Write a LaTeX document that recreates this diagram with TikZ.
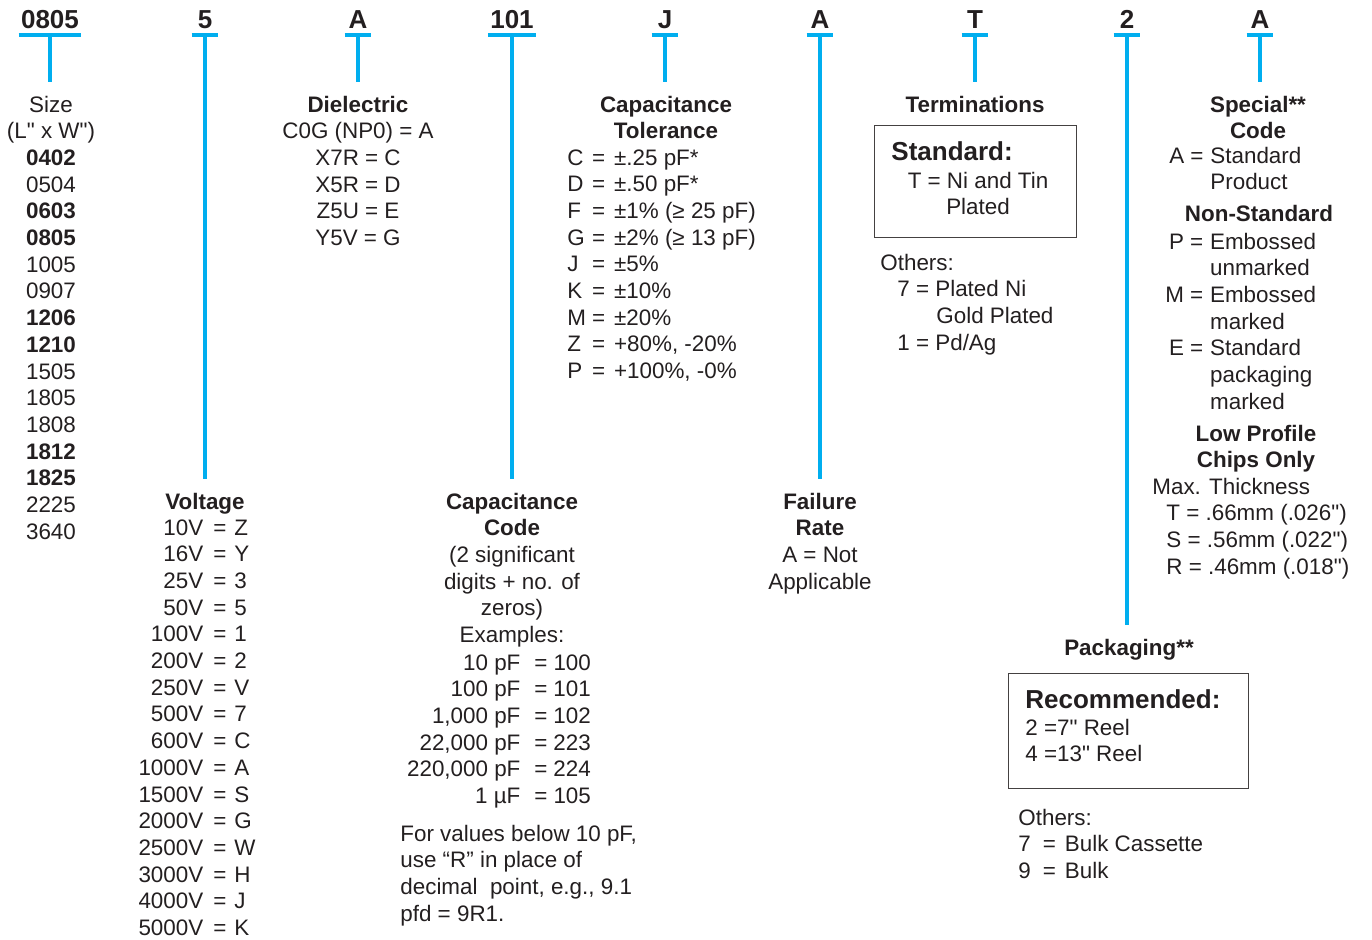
\documentclass[tikz,border=0pt]{standalone}
\usepackage{fontspec}
\setmainfont{Liberation Sans}[Ligatures=TeXOff]
\definecolor{codeblue}{HTML}{00AEEF}
\definecolor{ink}{HTML}{231F20}
\newcommand\codelines[2]{\begin{tabular}[t]{@{}#1@{}}#2\end{tabular}}
\tikzset{
  code/.style = {font=\fontsize{13}{15}\selectfont\bfseries, text=ink, anchor=base, inner xsep=1pt, inner ysep=3.5pt, text depth=0pt, minimum width=13pt},
  bar/.style = {codeblue, line width=2pt},
  txt/.style = {font=\fontsize{11.2}{13.35}\selectfont, text=ink, inner sep=0pt},
  big/.style = {font=\fontsize{13}{15}\selectfont\bfseries, text=ink, inner sep=0pt},
  box/.style = {draw=ink!85, line width=0.7pt, inner sep=0pt, anchor=north west}
}
\begin{document}
\begin{tikzpicture}[x=0.5pt,y=-0.5pt]
\useasboundingbox (0,0) rectangle (1372,939);
\node[code](c1)at(50,28){0805};
\node[code](c2)at(205,28){5};
\node[code](c3)at(358,28){A};
\node[code](c4)at(512,28){101};
\node[code](c5)at(665,28){J};
\node[code](c6)at(820,28){A};
\node[code](c7)at(975,28){T};
\node[code](c8)at(1127,28){2};
\node[code](c9)at(1260,28){A};
\node[txt, anchor = base](size)at(51,112){\codelines{c}{Size\\(L" x W")\\\textbf{0402}\\0504\\\textbf{0603}\\\textbf{0805}\\1005\\0907\\\textbf{1206}\\\textbf{1210}\\1505\\1805\\1808\\\textbf{1812}\\\textbf{1825}\\2225\\3640}};
\node[txt, anchor = base](volt)at(205,509){\textbf{Voltage}};
\node[txt, anchor = base](volttab)at(197,535){\begin{tabular}[t]{@{}r@{\hspace{5pt}=\hspace{4pt}}l@{}}
10V & Z\\ 16V & Y\\ 25V & 3\\ 50V & 5\\ 100V & 1\\ 200V & 2\\ 250V & V\\ 500V & 7\\ 600V & C\\ 1000V & A\\ 1500V & S\\ 2000V & G\\ 2500V & W\\ 3000V & H\\ 4000V & J\\ 5000V & K
\end{tabular}};
\node[txt, anchor = base](diel)at(358,112){\codelines{c}{\textbf{Dielectric}\\C0G (NP0) = A\\X7R = C\\X5R = D\\Z5U = E\\Y5V = G}};
\node[txt, anchor = base](capcode)at(512,509){\codelines{c}{\textbf{Capacitance}\\\textbf{Code}\\(2 significant\\digits + no. of\\zeros)\\Examples:}};
\node[txt, anchor = base](captab)at(499,670){\begin{tabular}[t]{@{}r@{\hspace{7pt}=\hspace{3pt}}l@{}}
10 pF & 100\\ 100 pF & 101\\ 1,000 pF & 102\\ 22,000 pF & 223\\ 220,000 pF & 224\\ 1 µF & 105
\end{tabular}};
\node[txt, anchor = base west](capnote)at(400,841){\codelines{l}{For values below 10 pF,\\use “R” in place of\\decimal\ \ point, e.g., 9.1\\pfd = 9R1.}};
\node[txt, anchor = base](tol)at(666,112){\codelines{c}{\textbf{Capacitance}\\\textbf{Tolerance}}};
\node[txt, anchor = base west](toltab)at(567,165){\begin{tabular}[t]{@{}l@{\hspace{3pt}=\hspace{4.5pt}}l@{}}
C & ±.25 pF*\\ D & ±.50 pF*\\ F & ±1\% (≥ 25 pF)\\ G & ±2\% (≥ 13 pF)\\ J & ±5\%\\ K & ±10\%\\ M & ±20\%\\ Z & +80\%, -20\%\\ P & +100\%, -0\%
\end{tabular}};
\node[txt, anchor = base](fail)at(820,509){\codelines{c}{\textbf{Failure}\\\textbf{Rate}\\A = Not\\Applicable}};
\node[txt, anchor = base](term)at(975,112){\textbf{Terminations}};
\node[box, minimum width = 101pt, minimum height = 56pt](stdbox)at(874,125){};
\node[big, anchor = base west](std)at(891,160){Standard:};
\node[txt, anchor = base](stdtxt)at(978,188){\codelines{c}{T = Ni and Tin\\Plated}};
\node[txt, anchor = base west](termoth)at(880,270){\codelines{l}{Others:\\\hspace*{8.5pt}7 = Plated Ni\\\hspace*{28pt}Gold Plated\\\hspace*{8.5pt}1 = Pd/Ag}};
\node[txt, anchor = base](pack)at(1129,655){\textbf{Packaging**}};
\node[box, minimum width = 120pt, minimum height = 57.5pt](recbox)at(1008,673){};
\node[big, anchor = base west](rec)at(1025,708){Recommended:};
\node[txt, anchor = base west](rectxt)at(1025,735){\codelines{l}{2 =7" Reel\\4 =13" Reel}};
\node[txt, anchor = base west](packoth)at(1018,825){\codelines{l}{Others:\\7\hspace{6pt}=\hspace{4.5pt}Bulk Cassette\\9\hspace{6pt}=\hspace{4.5pt}Bulk}};
\node[txt, anchor = base](spec)at(1258,112){\codelines{c}{\textbf{Special**}\\\textbf{Code}}};
\node[txt, anchor = base west](specA)at(1169,163){\begin{tabular}[t]{@{}r@{\hspace{3pt}}c@{\hspace{3.5pt}}l@{}}
A & = & Standard\\ & & Product
\end{tabular}};
\node[txt, anchor = base](nonstd)at(1259,221){\textbf{Non-Standard}};
\node[txt, anchor = base west](specB)at(1165,249){\begin{tabular}[t]{@{}r@{\hspace{3pt}}c@{\hspace{3.5pt}}l@{}}
P & = & Embossed\\ & & unmarked\\ M & = & Embossed\\ & & marked\\ E & = & Standard\\ & & packaging\\ & & marked
\end{tabular}};
\node[txt, anchor = base](lowpro)at(1256,441){\codelines{c}{\textbf{Low Profile}\\\textbf{Chips Only}}};
\node[txt, anchor = base west](thick)at(1152,494){\codelines{l}{Max. Thickness\\\hspace*{7pt}T = .66mm (.026")\\\hspace*{7pt}S = .56mm (.022")\\\hspace*{7pt}R = .46mm (.018")}};
\draw[bar](c1.south west)--(c1.south east);
\draw[bar, shorten >= 15pt](c1.south)--(c1.south |- size.base);
\draw[bar](c2.south west)--(c2.south east);
\draw[bar, shorten >= 15pt](c2.south)--(c2.south |- volt.base);
\draw[bar](c3.south west)--(c3.south east);
\draw[bar, shorten >= 15pt](c3.south)--(c3.south |- diel.base);
\draw[bar](c4.south west)--(c4.south east);
\draw[bar, shorten >= 15pt](c4.south)--(c4.south |- capcode.base);
\draw[bar](c5.south west)--(c5.south east);
\draw[bar, shorten >= 15pt](c5.south)--(c5.south |- tol.base);
\draw[bar](c6.south west)--(c6.south east);
\draw[bar, shorten >= 15pt](c6.south)--(c6.south |- fail.base);
\draw[bar](c7.south west)--(c7.south east);
\draw[bar, shorten >= 15pt](c7.south)--(c7.south |- term.base);
\draw[bar](c8.south west)--(c8.south east);
\draw[bar, shorten >= 15pt](c8.south)--(c8.south |- pack.base);
\draw[bar](c9.south west)--(c9.south east);
\draw[bar, shorten >= 15pt](c9.south)--(c9.south |- spec.base);
\end{tikzpicture}
\end{document}
